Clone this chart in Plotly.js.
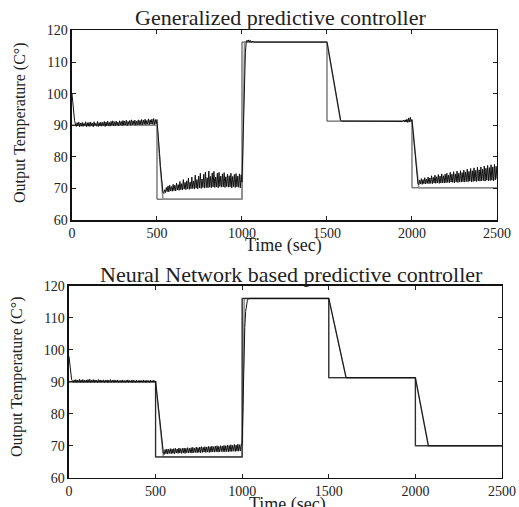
<!DOCTYPE html>
<html>
<head>
<meta charset="utf-8">
<script src="https://cdn.plot.ly/plotly-3.0.1.min.js"></script>
<style>html,body{margin:0;padding:0;background:#fff;}#chart{width:519px;height:507px;}</style>
</head>
<body>
<div id="chart"></div>
<script>
// Sampling interval of the output records (seconds)
const sampleStep = 5;

// Setpoint (step changes)
const setpointTime = [0, 500, 500, 1000, 1000, 1500, 1500, 2000, 2000, 2500];
const gpcSetpoint  = [90, 90, 66.6, 66.6, 116.3, 116.3, 91.3, 91.3, 70.2, 70.2];
const nnSetpoint   = [90, 90, 66.5, 66.5, 116.1, 116.1, 91.3, 91.3, 70.0, 70.0];

// Reference trajectory (ramped)
const gpcRefTime = [0, 500, 535, 1000, 1015, 1500, 1580, 2000, 2040, 2500];
const gpcRef     = [90, 90, 66.6, 66.6, 116.3, 116.3, 91.3, 91.3, 70.2, 70.2];
const nnRefTime  = [0, 500, 545, 1000, 1012, 1500, 1600, 2000, 2075, 2500];
const nnRef      = [90, 90, 66.5, 66.5, 116.1, 116.1, 91.3, 91.3, 70.0, 70.0];

// Plant output, one value every 5 s from 0 to 2500 (20 values = 100 s per row)
const gpcOutput = [
  100, 96, 93, 91.5, 90.4, 89.6, 90.8, 89.8, 91.0, 89.5, 90.7, 89.7, 90.9, 89.6, 90.6, 89.8, 91.1, 89.5, 90.8, 89.7,
  90.9, 89.6, 91.0, 89.8, 90.7, 89.5, 91.1, 89.9, 90.6, 89.7, 91.2, 89.6, 90.8, 89.8, 91.0, 89.7, 90.9, 89.9, 91.2, 89.6,
  91.0, 89.8, 91.3, 89.9, 90.9, 89.7, 91.2, 90.0, 91.4, 89.8, 91.1, 89.9, 91.3, 90.0, 91.0, 89.8, 91.4, 90.1, 91.2, 89.9,
  91.5, 90.0, 91.3, 90.1, 91.6, 89.9, 91.2, 90.2, 91.5, 90.0, 91.7, 90.1, 91.4, 90.2, 91.6, 90.0, 91.3, 90.2, 91.7, 90.1,
  91.5, 90.2, 91.8, 90.1, 91.6, 90.3, 91.9, 90.2, 91.5, 90.3, 92.0, 90.2, 91.7, 90.4, 91.9, 90.3, 92.1, 90.2, 91.8, 90.4,
  91.8, 89, 85, 81, 77, 73.5, 70.5, 68.8, 68.4, 69.6, 68.7, 70.3, 69.0, 70.8, 68.9, 71.0, 69.2, 70.6, 69.1, 71.3,
  69.3, 71.0, 69.2, 71.7, 69.5, 71.2, 69.4, 72.2, 69.6, 71.5, 69.5, 72.8, 69.8, 71.9, 69.6, 72.4, 69.9, 73.3, 69.7, 72.0,
  69.9, 73.6, 70.0, 72.3, 69.8, 74.2, 70.1, 72.8, 69.9, 73.9, 70.2, 74.8, 70.0, 73.0, 70.3, 74.5, 70.1, 75.2, 70.3, 73.4,
  70.2, 75.5, 70.4, 73.8, 70.2, 74.9, 70.5, 75.4, 70.3, 73.6, 70.5, 74.8, 70.2, 75.1, 70.6, 73.9, 70.4, 74.6, 70.5, 75.0,
  70.3, 73.7, 70.6, 74.5, 70.4, 74.0, 70.5, 74.8, 70.2, 73.8, 70.6, 74.4, 70.3, 74.7, 70.5, 73.9, 70.4, 74.6, 70.2, 74.3,
  72, 84, 96, 106, 113, 116.2, 116.9, 116.4, 117.0, 116.3, 116.8, 116.2, 116.6, 116.3, 116.5, 116.3, 116.3, 116.3, 116.3, 116.3,
  116.3, 116.3, 116.3, 116.3, 116.3, 116.3, 116.3, 116.3, 116.3, 116.3, 116.3, 116.3, 116.3, 116.3, 116.3, 116.3, 116.3, 116.3, 116.3, 116.3,
  116.3, 116.3, 116.3, 116.3, 116.3, 116.3, 116.3, 116.3, 116.3, 116.3, 116.3, 116.3, 116.3, 116.3, 116.3, 116.3, 116.3, 116.3, 116.3, 116.3,
  116.3, 116.3, 116.3, 116.3, 116.3, 116.3, 116.3, 116.3, 116.3, 116.3, 116.3, 116.3, 116.3, 116.3, 116.3, 116.3, 116.3, 116.3, 116.3, 116.3,
  116.3, 116.3, 116.3, 116.3, 116.3, 116.3, 116.3, 116.3, 116.3, 116.3, 116.3, 116.3, 116.3, 116.3, 116.3, 116.3, 116.3, 116.3, 116.3, 116.3,
  116.3, 114.8, 113.2, 111.7, 110.1, 108.6, 107.0, 105.5, 103.9, 102.4, 100.8, 99.3, 97.7, 96.2, 94.6, 93.1, 91.6, 91.3, 91.3, 91.3,
  91.3, 91.3, 91.3, 91.3, 91.3, 91.3, 91.3, 91.3, 91.3, 91.3, 91.3, 91.3, 91.3, 91.3, 91.3, 91.3, 91.3, 91.3, 91.3, 91.3,
  91.3, 91.3, 91.3, 91.3, 91.3, 91.3, 91.3, 91.3, 91.3, 91.3, 91.3, 91.3, 91.3, 91.3, 91.3, 91.3, 91.3, 91.3, 91.3, 91.3,
  91.3, 91.3, 91.3, 91.3, 91.3, 91.3, 91.3, 91.3, 91.3, 91.3, 91.3, 91.3, 91.3, 91.3, 91.3, 91.3, 91.3, 91.3, 91.3, 91.3,
  91.3, 91.3, 91.3, 91.3, 91.3, 91.3, 91.3, 91.3, 91.4, 91.2, 91.5, 91.1, 91.7, 91.0, 91.9, 90.9, 92.3, 91.0, 92.5, 91.2,
  91.8, 89, 86, 82.5, 79, 76, 73, 71.5, 71.2, 72.6, 71.4, 73.1, 71.3, 72.8, 71.5, 73.4, 71.4, 73.0, 71.6, 73.6,
  71.5, 73.3, 71.6, 74.0, 71.5, 73.5, 71.7, 74.2, 71.6, 73.7, 71.8, 74.4, 71.6, 73.9, 71.7, 74.6, 71.8, 74.0, 71.7, 74.5,
  71.8, 74.8, 71.9, 74.2, 71.8, 75.1, 72.0, 74.5, 71.9, 75.3, 71.8, 74.6, 72.0, 75.5, 71.9, 74.8, 72.1, 75.6, 72.0, 75.0,
  72.1, 75.8, 72.0, 75.2, 72.2, 76.1, 72.1, 75.4, 72.3, 76.3, 72.1, 75.6, 72.2, 76.5, 72.3, 75.7, 72.2, 76.7, 72.4, 75.9,
  72.3, 76.8, 72.4, 76.1, 72.5, 77.1, 72.3, 76.4, 72.6, 77.3, 72.4, 76.6, 72.5, 77.5, 72.6, 76.8, 72.4, 77.6, 72.7, 77.0,
  73
];

const nnOutput = [
  98, 95, 92, 90.8, 90.3, 89.8, 90.6, 89.9, 90.7, 89.8, 90.5, 89.9, 90.8, 89.8, 90.6, 89.9, 90.7, 89.8, 90.5, 89.9,
  90.6, 89.8, 90.7, 89.9, 90.8, 89.8, 90.5, 89.9, 90.7, 89.8, 90.6, 89.9, 90.5, 89.8, 90.7, 89.9, 90.6, 89.8, 90.5, 89.9,
  90.6, 89.8, 90.5, 89.9, 90.6, 89.8, 90.5, 89.9, 90.7, 89.8, 90.5, 89.9, 90.6, 89.8, 90.5, 89.9, 90.6, 89.8, 90.4, 89.9,
  90.5, 89.8, 90.6, 89.9, 90.4, 89.8, 90.5, 89.9, 90.6, 89.8, 90.4, 89.9, 90.5, 89.8, 90.6, 89.9, 90.4, 89.8, 90.5, 89.9,
  90.4, 89.8, 90.5, 89.9, 90.4, 89.8, 90.6, 89.9, 90.4, 89.8, 90.5, 89.9, 90.4, 89.8, 90.5, 89.9, 90.4, 89.9, 90.5, 89.9,
  90.2, 87.5, 85, 82.5, 80, 77, 74.5, 72, 69.5, 67.8, 67.3, 68.8, 67.5, 69.0, 67.4, 68.9, 67.6, 69.1, 67.5, 69.0,
  67.6, 69.1, 67.5, 69.2, 67.7, 69.0, 67.6, 69.3, 67.7, 69.1, 67.6, 69.2, 67.7, 69.3, 67.6, 69.2, 67.8, 69.4, 67.7, 69.2,
  67.8, 69.4, 67.7, 69.5, 67.8, 69.3, 67.9, 69.6, 67.8, 69.4, 67.9, 69.6, 67.8, 69.7, 67.9, 69.5, 68.0, 69.7, 67.9, 69.6,
  68.0, 69.8, 67.9, 69.7, 68.0, 69.9, 68.1, 69.7, 68.0, 69.9, 68.1, 70.0, 68.0, 69.8, 68.1, 70.0, 68.2, 69.9, 68.1, 70.1,
  68.1, 70.0, 68.2, 70.2, 68.1, 70.1, 68.2, 70.3, 68.2, 70.1, 68.3, 70.4, 68.2, 70.2, 68.3, 70.5, 68.3, 70.3, 68.4, 70.5,
  70.5, 85, 100, 107, 112, 114, 115.5, 116.0, 116.1, 116.1, 116.1, 116.1, 116.1, 116.1, 116.1, 116.1, 116.1, 116.1, 116.1, 116.1,
  116.1, 116.1, 116.1, 116.1, 116.1, 116.1, 116.1, 116.1, 116.1, 116.1, 116.1, 116.1, 116.1, 116.1, 116.1, 116.1, 116.1, 116.1, 116.1, 116.1,
  116.1, 116.1, 116.1, 116.1, 116.1, 116.1, 116.1, 116.1, 116.1, 116.1, 116.1, 116.1, 116.1, 116.1, 116.1, 116.1, 116.1, 116.1, 116.1, 116.1,
  116.1, 116.1, 116.1, 116.1, 116.1, 116.1, 116.1, 116.1, 116.1, 116.1, 115.9, 116.0, 115.9, 116.0, 115.9, 116.0, 116.1, 116.1, 116.1, 116.1,
  116.1, 116.1, 116.1, 116.1, 116.1, 116.1, 116.1, 116.1, 116.1, 116.1, 116.1, 116.1, 116.1, 116.1, 116.1, 116.1, 116.1, 116.1, 116.1, 116.1,
  116.1, 114.9, 113.6, 112.4, 111.1, 109.9, 108.6, 107.4, 106.1, 104.9, 103.6, 102.4, 101.1, 99.9, 98.6, 97.4, 96.1, 94.9, 93.6, 92.5,
  91.3, 91.3, 91.3, 91.3, 91.3, 91.3, 91.3, 91.3, 91.3, 91.3, 91.3, 91.3, 91.3, 91.3, 91.3, 91.3, 91.3, 91.3, 91.3, 91.3,
  91.3, 91.3, 91.3, 91.3, 91.3, 91.3, 91.3, 91.3, 91.3, 91.3, 91.3, 91.3, 91.3, 91.3, 91.3, 91.3, 91.3, 91.3, 91.3, 91.3,
  91.3, 91.3, 91.3, 91.3, 91.3, 91.3, 91.3, 91.3, 91.3, 91.3, 91.3, 91.3, 91.3, 91.3, 91.3, 91.3, 91.3, 91.3, 91.3, 91.3,
  91.3, 91.3, 91.3, 91.3, 91.3, 91.3, 91.3, 91.3, 91.3, 91.3, 91.3, 91.3, 91.3, 91.3, 91.3, 91.3, 91.3, 91.3, 91.3, 91.3,
  91.3, 89.9, 88.5, 87.0, 85.6, 84.2, 82.8, 81.4, 79.9, 78.5, 77.1, 75.7, 74.3, 72.8, 71.4, 70.0, 70.0, 70.0, 70.0, 70.0,
  70.0, 70.0, 70.0, 70.0, 70.0, 70.0, 70.0, 70.0, 70.0, 70.0, 70.0, 70.0, 70.0, 70.0, 70.0, 70.0, 70.0, 70.0, 70.0, 70.0,
  70.0, 70.0, 70.0, 70.0, 70.0, 70.0, 70.0, 70.0, 70.0, 70.0, 70.0, 70.0, 70.0, 70.0, 70.0, 70.0, 70.0, 70.0, 70.0, 70.0,
  70.0, 70.0, 70.0, 70.0, 70.0, 70.0, 70.0, 70.0, 70.0, 70.0, 70.0, 70.0, 70.0, 70.0, 70.0, 70.0, 70.0, 70.0, 70.0, 70.0,
  70.0, 70.0, 70.0, 70.0, 70.0, 70.0, 70.0, 70.0, 70.0, 70.0, 70.0, 70.0, 70.0, 70.0, 70.0, 70.0, 70.0, 70.0, 70.0, 70.0,
  70.0
];

const xTicks = [0, 500, 1000, 1500, 2000, 2500];
const yTicks = [60, 70, 80, 90, 100, 110, 120];
const titles = ['Generalized predictive controller', 'Neural Network based predictive controller'];
const xLabel = 'Time (sec)';
const yLabel = 'Output Temperature (C°)';

const gpcTime = gpcOutput.map((_, i) => i * sampleStep);
const nnTime = nnOutput.map((_, i) => i * sampleStep);

const FONT = 'Liberation Serif';
const TXT = '#222';

function line(x, y, color, width, xa, ya) {
  return {x: x, y: y, type: 'scatter', mode: 'lines', xaxis: xa, yaxis: ya,
          line: {color: color, width: width}, hoverinfo: 'skip', showlegend: false};
}

const data = [
  line(setpointTime, gpcSetpoint, '#3c3c3c', 1, 'x', 'y'),
  line(gpcRefTime, gpcRef, '#8c8c8c', 1.5, 'x', 'y'),
  line(gpcTime, gpcOutput, '#111111', 1, 'x', 'y'),
  line(setpointTime, nnSetpoint, '#8c8c8c', 1.5, 'x2', 'y2'),
  line(nnRefTime, nnRef, '#8c8c8c', 1.5, 'x2', 'y2'),
  line(setpointTime, nnSetpoint, '#222222', 1, 'x2', 'y2'),
  line(nnTime, nnOutput, '#111111', 1, 'x2', 'y2')
];

function xAxis(domain, anchor) {
  return {domain: domain, anchor: anchor, range: [0, 2500], tickvals: xTicks,
    ticks: 'inside', ticklen: 4, tickcolor: '#222', mirror: 'ticks', showline: true,
    linecolor: '#111', linewidth: 1.5, showgrid: false, zeroline: false,
    tickfont: {family: FONT, size: 14, color: TXT}};
}
function yAxis(domain, anchor) {
  return {domain: domain, anchor: anchor, range: [60, 120], tickvals: yTicks,
    ticks: 'inside', ticklen: 4, tickcolor: '#222', mirror: 'ticks', showline: true,
    linecolor: '#111', linewidth: 1.5, showgrid: false, zeroline: false,
    tickfont: {family: FONT, size: 14, color: TXT}};
}

function label(text, x, y, size, angle) {
  return {text: text, xref: 'paper', yref: 'paper', x: x, y: y, xanchor: 'center', yanchor: 'middle',
          showarrow: false, textangle: angle || 0, font: {family: FONT, size: size, color: TXT}};
}

const layout = {
  width: 519, height: 507,
  margin: {l: 0, r: 0, t: 0, b: 0},
  paper_bgcolor: '#fff', plot_bgcolor: '#fff',
  showlegend: false,
  xaxis: xAxis([0.1387, 0.9576], 'y'),
  yaxis: yAxis([0.566, 0.940], 'x'),
  xaxis2: xAxis([0.1329, 0.9672], 'y2'),
  yaxis2: yAxis([0.0578, 0.436], 'x2'),
  annotations: [
    label(titles[0], 0.54, 0.9645, 22),
    label(titles[1], 0.561, 0.4576, 22),
    label(xLabel, 0.5466, 0.5148, 18),
    label(xLabel, 0.553, 0.0059, 18),
    label(yLabel, 0.0385, 0.7594, 16, -90),
    label(yLabel, 0.0328, 0.2564, 16, -90)
  ]
};

Plotly.newPlot('chart', data, layout, {staticPlot: true, displayModeBar: false});
</script>
</body>
</html>
